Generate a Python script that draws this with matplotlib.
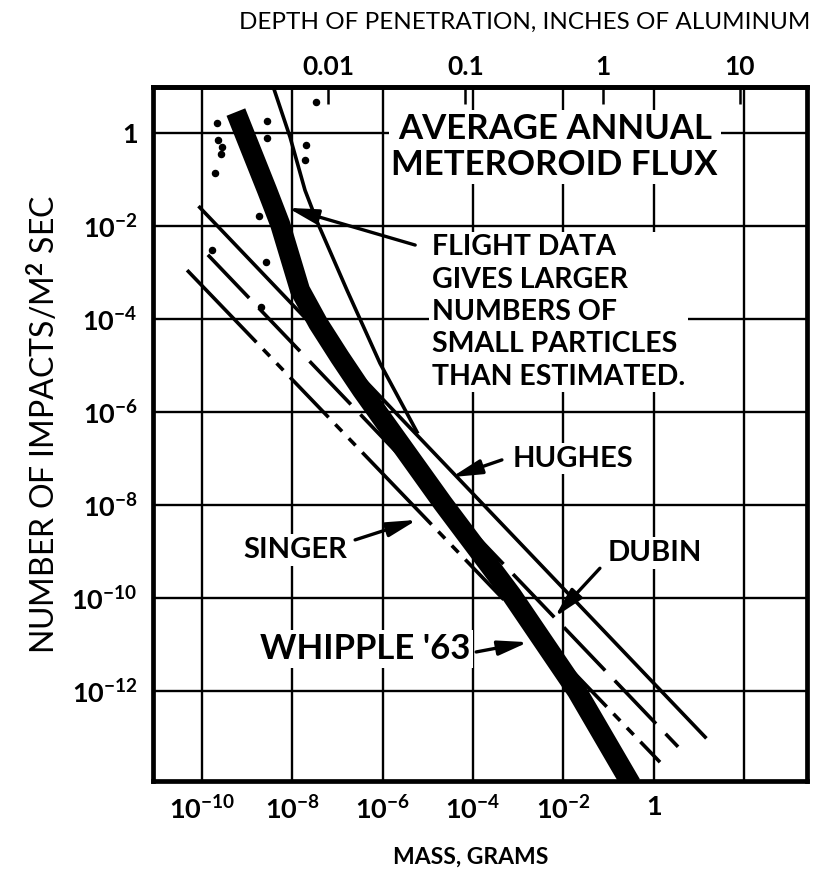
import numpy as np
import matplotlib
matplotlib.use('Agg')
import matplotlib.pyplot as plt
from matplotlib.ticker import FixedLocator, NullLocator

plt.rcParams['font.family'] = ['Lato', 'DejaVu Sans']
plt.rcParams['mathtext.fontset'] = 'custom'
plt.rcParams['mathtext.rm'] = 'Lato:bold'
plt.rcParams['mathtext.it'] = 'Lato:bold:italic'
plt.rcParams['mathtext.bf'] = 'Lato:bold'
plt.rcParams['lines.scale_dashes'] = False

# ---------------- data (log10 of mass [g] and of impacts / m^2 s) ----------------
whipple_log_mass = [-9.25, -8.56, -8.27, -7.83, -7.43, -6.95, -6.46, -6.13, -4.67, -3.14, -1.70, -0.50]
whipple_log_flux = [0.45, -1.23, -1.96, -3.38, -4.09, -4.82, -5.53, -5.98, -7.96, -9.94, -12.00, -14.00]

flight_log_mass = [-8.46, -8.05, -7.72, -7.45, -6.79, -6.06, -5.24]
flight_log_flux = [1.10, -0.09, -1.23, -1.91, -3.38, -4.95, -6.43]

hughes_log_mass = [-10.05, 1.14]
hughes_log_flux = [-1.60, -12.99]

dubin_log_mass = [-9.87, 0.54]
dubin_log_flux = [-2.62, -13.20]

singer_log_mass = [-10.33, 0.14]
singer_log_flux = [-2.95, -13.53]

points_log_mass = [-9.67, -9.65, -9.56, -9.58, -9.71, -8.56, -8.56, -7.48, -7.70, -7.72, -8.74, -8.58, -8.70, -9.78]
points_log_flux = [0.22, -0.15, -0.30, -0.45, -0.86, 0.26, -0.11, 0.67, -0.26, -0.58, -1.79, -2.77, -3.74, -2.52]

mass_ticks_exp = [-10, -8, -6, -4, -2, 0, 2]
mass_tick_labels = [r'$10^{-10}$', r'$10^{-8}$', r'$10^{-6}$', r'$10^{-4}$', r'$10^{-2}$', '1', '']
flux_ticks_exp = [0, -2, -4, -6, -8, -10, -12]
flux_tick_labels = ['1', r'$10^{-2}$', r'$10^{-4}$', r'$10^{-6}$', r'$10^{-8}$', r'$10^{-10}$', r'$10^{-12}$']
depth_ticks = [0.01, 0.1, 1, 10]
depth_tick_labels = ['0.01', '0.1', '1', '10']

# mass <-> depth of penetration (inches of aluminium)
DEPTH_LOGA = -1.13
DEPTH_EXP = 3.04


def mass_to_depth(m):
    m = np.clip(np.asarray(m, dtype=float), 1e-300, None)
    return (m / 10 ** DEPTH_LOGA) ** (1.0 / DEPTH_EXP)


def depth_to_mass(d):
    d = np.clip(np.asarray(d, dtype=float), 1e-300, None)
    return 10 ** DEPTH_LOGA * d ** DEPTH_EXP


def p(v):
    return 10.0 ** np.asarray(v, dtype=float)


W, H = 818, 881
fig = plt.figure(figsize=(W / 100, H / 100), dpi=100)
ax = fig.add_axes([153 / W, 1 - 781 / H, (807 - 153) / W, (781 - 87) / H])
ax.set_xscale('log')
ax.set_yscale('log')
ax.set_xlim(10 ** -11.085, 10 ** 3.395)
ax.set_ylim(10 ** -13.935, 10 ** 0.989)

ax.xaxis.set_major_locator(FixedLocator(p(mass_ticks_exp)))
ax.xaxis.set_minor_locator(NullLocator())
ax.set_xticklabels(mass_tick_labels, fontweight='bold')
ax.yaxis.set_major_locator(FixedLocator(p(flux_ticks_exp)))
ax.yaxis.set_minor_locator(NullLocator())
ax.set_yticklabels(flux_tick_labels, fontweight='bold')
ax.tick_params(axis='both', length=0, labelsize=19.5)
ax.tick_params(axis='x', pad=10)
ax.tick_params(axis='y', pad=11)
ax.grid(True, color='black', lw=1.7)
for s in ax.spines.values():
    s.set_linewidth(3.4)

# top axis
sec = ax.secondary_xaxis('top', functions=(mass_to_depth, depth_to_mass))
sec.set_xticks(depth_ticks)
sec.set_xticklabels(depth_tick_labels, fontweight='bold')
sec.xaxis.set_minor_locator(NullLocator())
sec.tick_params(direction='in', length=12, width=1.8, labelsize=19, pad=6)
sec.spines['top'].set_linewidth(3.4)

# curves
ax.plot(p(whipple_log_mass), p(whipple_log_flux), color='black', lw=14.5,
        solid_capstyle='butt', solid_joinstyle='round', zorder=6)
ax.plot(p(flight_log_mass), p(flight_log_flux), color='black', lw=2.6, zorder=5)
ax.plot(p(hughes_log_mass), p(hughes_log_flux), color='black', lw=2.6, zorder=5)
ax.plot(p(dubin_log_mass), p(dubin_log_flux), color='black', lw=2.6, zorder=5,
        linestyle=(0, (43, 10)))
ax.plot(p(singer_log_mass), p(singer_log_flux), color='black', lw=2.6, zorder=5,
        linestyle=(0, (72, 7, 7, 7, 7, 7, 40, 7, 7, 7, 7, 7)))
ax.plot(p(points_log_mass), p(points_log_flux), 'o', color='black', ms=4.4, zorder=5)

# texts
box = dict(fc='white', ec='none', pad=2)
ax.text(10 ** -2.19, 10 ** -0.30, 'AVERAGE ANNUAL\nMETEROROID FLUX', fontsize=25,
        fontweight='bold', ha='center', va='center', multialignment='center',
        linespacing=1.18, bbox=box, zorder=4)
ax.text(10 ** -4.91, 10 ** -3.85, 'FLIGHT DATA\nGIVES LARGER\nNUMBERS OF\nSMALL PARTICLES\nTHAN ESTIMATED.',
        fontsize=20.5, fontweight='bold', ha='left', va='center', linespacing=1.3, bbox=box, zorder=4)
ax.text(10 ** -3.115, 10 ** -7.0, 'HUGHES', fontsize=21, fontweight='bold', ha='left', va='center',
        bbox=box, zorder=4)
ax.text(10 ** -1.01, 10 ** -9.03, 'DUBIN', fontsize=21, fontweight='bold', ha='left', va='center',
        bbox=box, zorder=4)
ax.text(10 ** -7.94, 10 ** -8.97, 'SINGER', fontsize=21, fontweight='bold', ha='center', va='center',
        bbox=box, zorder=4)
ax.text(10 ** -6.39, 10 ** -11.10, "WHIPPLE '63", fontsize=25, fontweight='bold', ha='center', va='center',
        bbox=box, zorder=4)

arrow = dict(arrowstyle='-|>,head_length=0.9,head_width=0.22', lw=2.4, color='black',
             shrinkA=0, shrinkB=0, mutation_scale=20)
ax.annotate('', xy=(10 ** -8.10, 10 ** -1.61), xytext=(10 ** -5.28, 10 ** -2.41), arrowprops=arrow, zorder=7)
ax.annotate('', xy=(10 ** -4.47, 10 ** -7.40), xytext=(10 ** -3.36, 10 ** -7.03), arrowprops=arrow, zorder=7)
ax.annotate('', xy=(10 ** -2.19, 10 ** -10.41), xytext=(10 ** -1.19, 10 ** -9.36), arrowprops=arrow, zorder=7)
ax.annotate('', xy=(10 ** -5.24, 10 ** -8.32), xytext=(10 ** -6.61, 10 ** -8.75), arrowprops=arrow, zorder=7)
ax.annotate('', xy=(10 ** -2.78, 10 ** -10.95), xytext=(10 ** -3.93, 10 ** -11.16), arrowprops=arrow, zorder=7)

# axis titles
fig.text(471 / W, 1 - 857 / H, 'MASS, GRAMS', fontsize=16.5, fontweight='bold', ha='center', va='center')
fig.text(525 / W, 1 - 22 / H, 'DEPTH OF PENETRATION, INCHES OF ALUMINUM', fontsize=17.5,
         ha='center', va='center')
fig.text(44 / W, 1 - 424 / H, r'NUMBER OF IMPACTS/M$^2$ SEC', fontsize=23, rotation=90,
         ha='center', va='center')

fig.savefig('out.png', dpi=100)
